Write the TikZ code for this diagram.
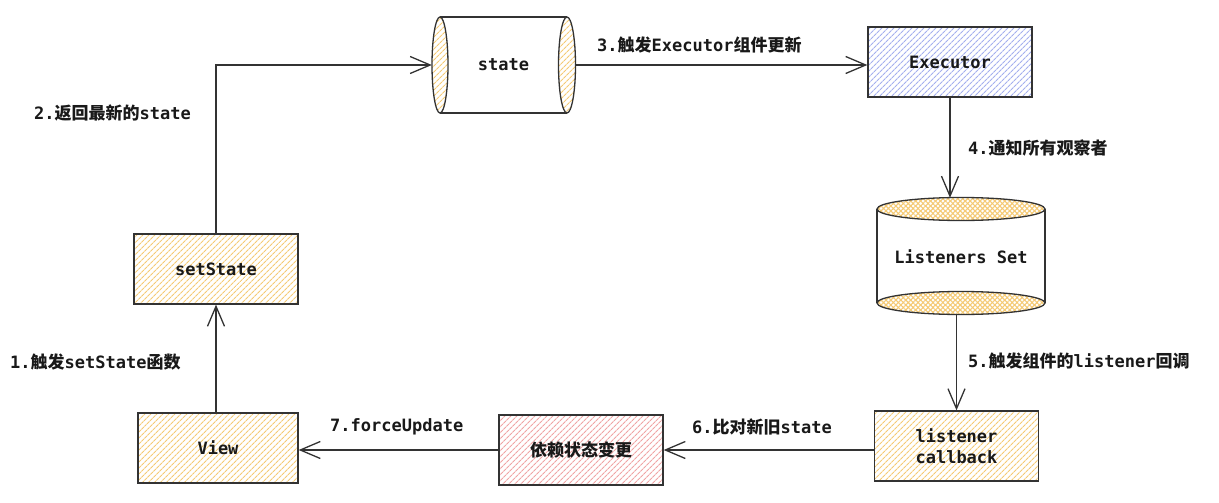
\documentclass[tikz,border=0pt]{standalone}
\usepackage{fontspec}
\setmonofont{DejaVu Sans Mono}
\newfontfamily\cjk{Noto Sans CJK SC}
\usetikzlibrary{arrows.meta,patterns.meta}
\definecolor{linec}{HTML}{333333}
\definecolor{yline}{HTML}{F5CA74}
\definecolor{bline}{HTML}{A4AFEE}
\definecolor{rline}{HTML}{F0A4A4}
\tikzset{
  every node/.style={font=\ttfamily\bfseries\fontsize{17}{21}\selectfont, text=black!90},
  hatchY/.style={preaction={fill=white},preaction={pattern={Lines[angle=45,distance=4pt,line width=1.2pt]},pattern color=yline}},
  hatchB/.style={preaction={fill=white},preaction={pattern={Lines[angle=45,distance=4pt,line width=1.2pt]},pattern color=bline}},
  hatchR/.style={preaction={fill=white},preaction={pattern={Lines[angle=45,distance=4pt,line width=1.2pt]},pattern color=rline}},
  crossY/.style={preaction={fill=white},preaction={pattern={Lines[angle=45,distance=3.5pt,line width=1.1pt]},pattern color=yline},preaction={pattern={Lines[angle=-45,distance=3.5pt,line width=1.1pt]},pattern color=yline}},
  boxnode/.style={draw=linec, line width=1.3pt, minimum width=164pt, minimum height=70pt, align=center, inner sep=0pt},
  conn/.style={draw=linec, line width=1.3pt, -{Straight Barb[length=20pt,width=17pt,line width=1.3pt]}},
  lbl/.style={anchor=west, inner sep=0pt},
  outline/.style={draw=linec, line width=1.3pt}
}
\begin{document}
\begin{tikzpicture}[x=1pt,y=-1pt]
\useasboundingbox (0,0) rectangle (1219,503);
% state cylinder (horizontal)
\path[hatchY] (440,65) ellipse [x radius=8, y radius=48];
\draw[outline] (440,65) ellipse [x radius=8, y radius=48];
\draw[outline] (440,17) -- (567,17);
\draw[outline] (440,113) -- (567,113);
\path[hatchY] (567,65) ellipse [x radius=8.5, y radius=48];
\draw[outline] (567,65) ellipse [x radius=8.5, y radius=48];
\node[minimum width=143pt, minimum height=96pt, inner sep=0pt] (state) at (503.5,65) {state};
% Executor
\node[boxnode, hatchB] (exec) at (950,62) {Executor};
% Listeners Set cylinder
\draw[outline] (877,209) -- (877,303);
\draw[outline] (1045,209) -- (1045,303);
\path[crossY] (961,303) ellipse [x radius=84, y radius=11.5];
\draw[outline] (961,303) ellipse [x radius=84, y radius=11.5];
\path[crossY] (961,209) ellipse [x radius=84, y radius=11.5];
\draw[outline] (961,209) ellipse [x radius=84, y radius=11.5];
\node[minimum width=168pt, minimum height=117pt, inner sep=0pt] (ls) at (961,256.5) {Listeners Set};
% setState
\node[boxnode, hatchY] (set) at (216,269) {setState};
% View
\node[boxnode, hatchY, minimum width=160pt] (view) at (218,448) {View};
% dep
\node[boxnode, hatchR] (dep) at (581,450) {{\cjk 依赖状态变更}};
% callback
\node[boxnode, hatchY] (cb) at (956.5,446) {listener\\callback};
% connectors
\draw[conn] (set.north) |- (state.west);
\draw[conn] (state.east) -- (exec.west |- state.east);
\draw[conn] (exec.south) -- (exec.south |- ls.north);
\draw[conn] (cb.north |- ls.south) -- (cb.north);
\draw[conn] (cb.west |- dep.east) -- (dep.east);
\draw[conn] (dep.west) -- (view.east |- dep.west);
\draw[conn] (view.north -| set.south) -- (set.south);
% labels
\node[lbl] (l1) at (10,362) {1.{\cjk 触发}setState{\cjk 函数}};
\node[lbl] (l2) at (34,113) {2.{\cjk 返回最新的}state};
\node[lbl] (l3) at (597,45) {3.{\cjk 触发}Executor{\cjk 组件更新}};
\node[lbl] (l4) at (968,148) {4.{\cjk 通知所有观察者}};
\node[lbl] (l5) at (968,361) {5.{\cjk 触发组件的}listener{\cjk 回调}};
\node[lbl] (l6) at (692,427) {6.{\cjk 比对新旧}state};
\node[lbl] (l7) at (330,427) {7.forceUpdate};
\end{tikzpicture}
\end{document}
